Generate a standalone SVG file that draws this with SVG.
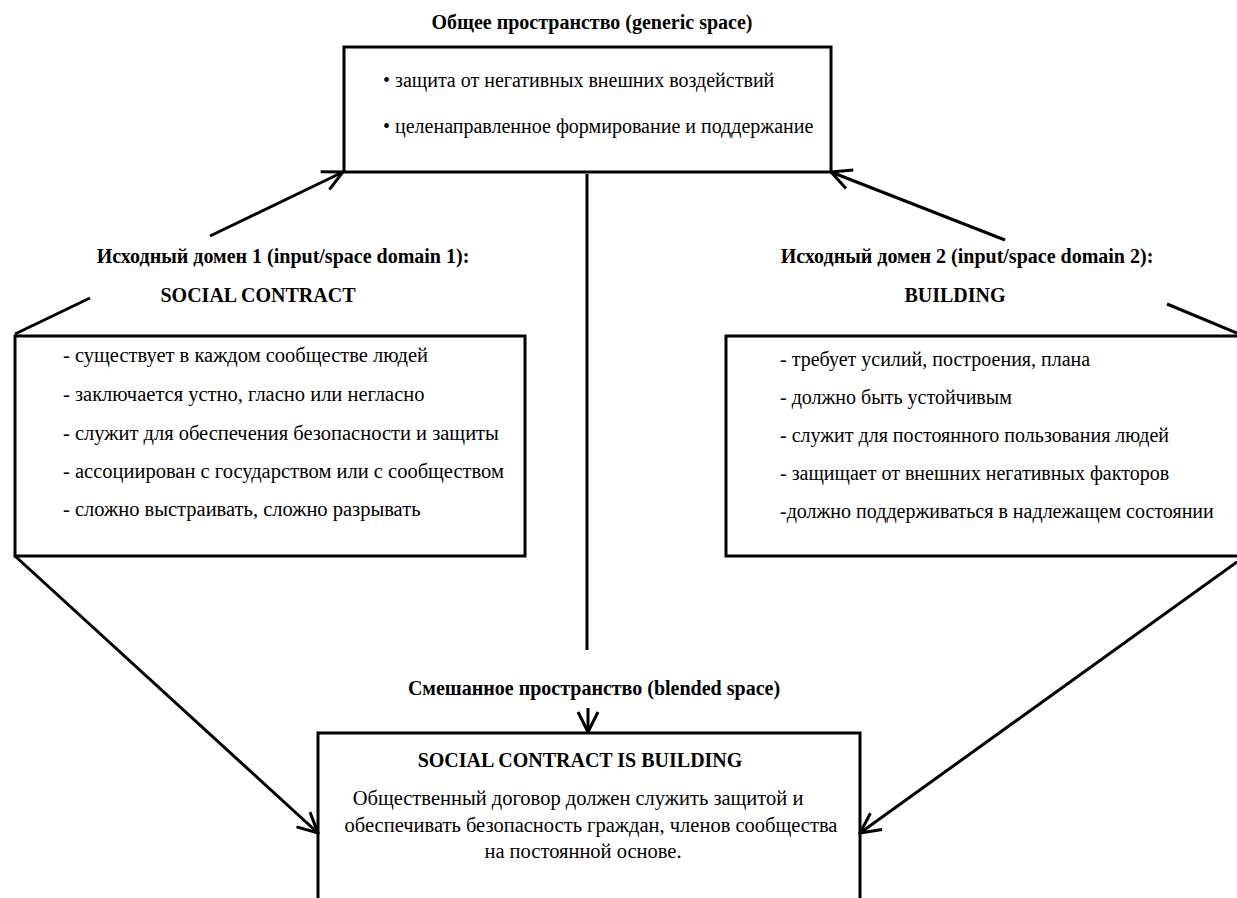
<svg xmlns="http://www.w3.org/2000/svg" width="1237" height="898" viewBox="0 0 1237 898">
<style>
.box{fill:none;stroke:#000;stroke-width:3}
.ln{fill:none;stroke:#000;stroke-width:3}
.t{font-family:"Liberation Serif","Times New Roman",serif;font-size:20.5px;fill:#000}
.s{font-size:20px}
.b{font-family:"Liberation Serif","Times New Roman",serif;font-size:20px;font-weight:bold;fill:#000}
.c{text-anchor:middle}
</style>
<defs>
<marker id="ah" viewBox="-22 -12 24 24" markerWidth="24" markerHeight="24" refX="0" refY="0" orient="auto" markerUnits="userSpaceOnUse">
<path d="M-20,-10 L0,0 L-20,10" fill="none" stroke="#000" stroke-width="3"/>
</marker>
</defs>
<rect width="1237" height="898" fill="#fff"/>
<g id="connectors">
<line class="ln" x1="210" y1="236" x2="343" y2="172" marker-end="url(#ah)"/>
<line class="ln" x1="1005" y1="240" x2="831" y2="172" marker-end="url(#ah)"/>
<line class="ln" x1="587" y1="174" x2="587" y2="650"/>
<line class="ln" x1="588" y1="708" x2="588" y2="732" marker-end="url(#ah)"/>
<line class="ln" x1="90" y1="298" x2="15" y2="334"/>
<line class="ln" x1="1167" y1="304" x2="1237" y2="333"/>
<line class="ln" x1="15" y1="556" x2="318" y2="833" marker-end="url(#ah)"/>
<line class="ln" x1="1237" y1="562" x2="860" y2="833" marker-end="url(#ah)"/>
</g>
<g id="generic">
<text class="b c" x="592" y="29">Общее пространство (generic space)</text>
<rect class="box" x="344" y="47" width="487" height="125"/>
<text class="t s" x="383" y="87">• защита от негативных внешних воздействий</text>
<text class="t s" x="383" y="133">• целенаправленное формирование и поддержание</text>
</g>
<g id="input1">
<text class="b c" x="283" y="263">Исходный домен 1 (input/space domain 1):</text>
<text class="b c" x="258" y="302">SOCIAL CONTRACT</text>
<rect class="box" x="15" y="336" width="510" height="220"/>
<text class="t" x="63" y="362">- существует в каждом сообществе людей</text>
<text class="t" x="63" y="401">- заключается устно, гласно или негласно</text>
<text class="t" x="63" y="440">- служит для обеспечения безопасности и защиты</text>
<text class="t" x="63" y="478">- ассоциирован с государством или с сообществом</text>
<text class="t" x="63" y="516">- сложно выстраивать, сложно разрывать</text>
</g>
<g id="input2">
<text class="b c" x="967" y="263">Исходный домен 2 (input/space domain 2):</text>
<text class="b c" x="955" y="302">BUILDING</text>
<rect class="box" x="726" y="336" width="520" height="220"/>
<text class="t s" x="780" y="366">- требует усилий, построения, плана</text>
<text class="t s" x="780" y="404">- должно быть устойчивым</text>
<text class="t s" x="780" y="442">- служит для постоянного пользования людей</text>
<text class="t s" x="780" y="480">- защищает от внешних негативных факторов</text>
<text class="t s" x="780" y="518">-должно поддерживаться в надлежащем состоянии</text>
</g>
<g id="blended">
<text class="b c" x="594" y="695">Смешанное пространство (blended space)</text>
<rect class="box" x="318" y="733" width="542" height="180"/>
<text class="b c" x="580" y="767">SOCIAL CONTRACT IS BUILDING</text>
<text class="t c" x="578" y="805">Общественный договор должен служить защитой и</text>
<text class="t c" x="591" y="832">обеспечивать безопасность граждан, членов сообщества</text>
<text class="t c" x="583" y="858">на постоянной основе.</text>
</g>
</svg>
